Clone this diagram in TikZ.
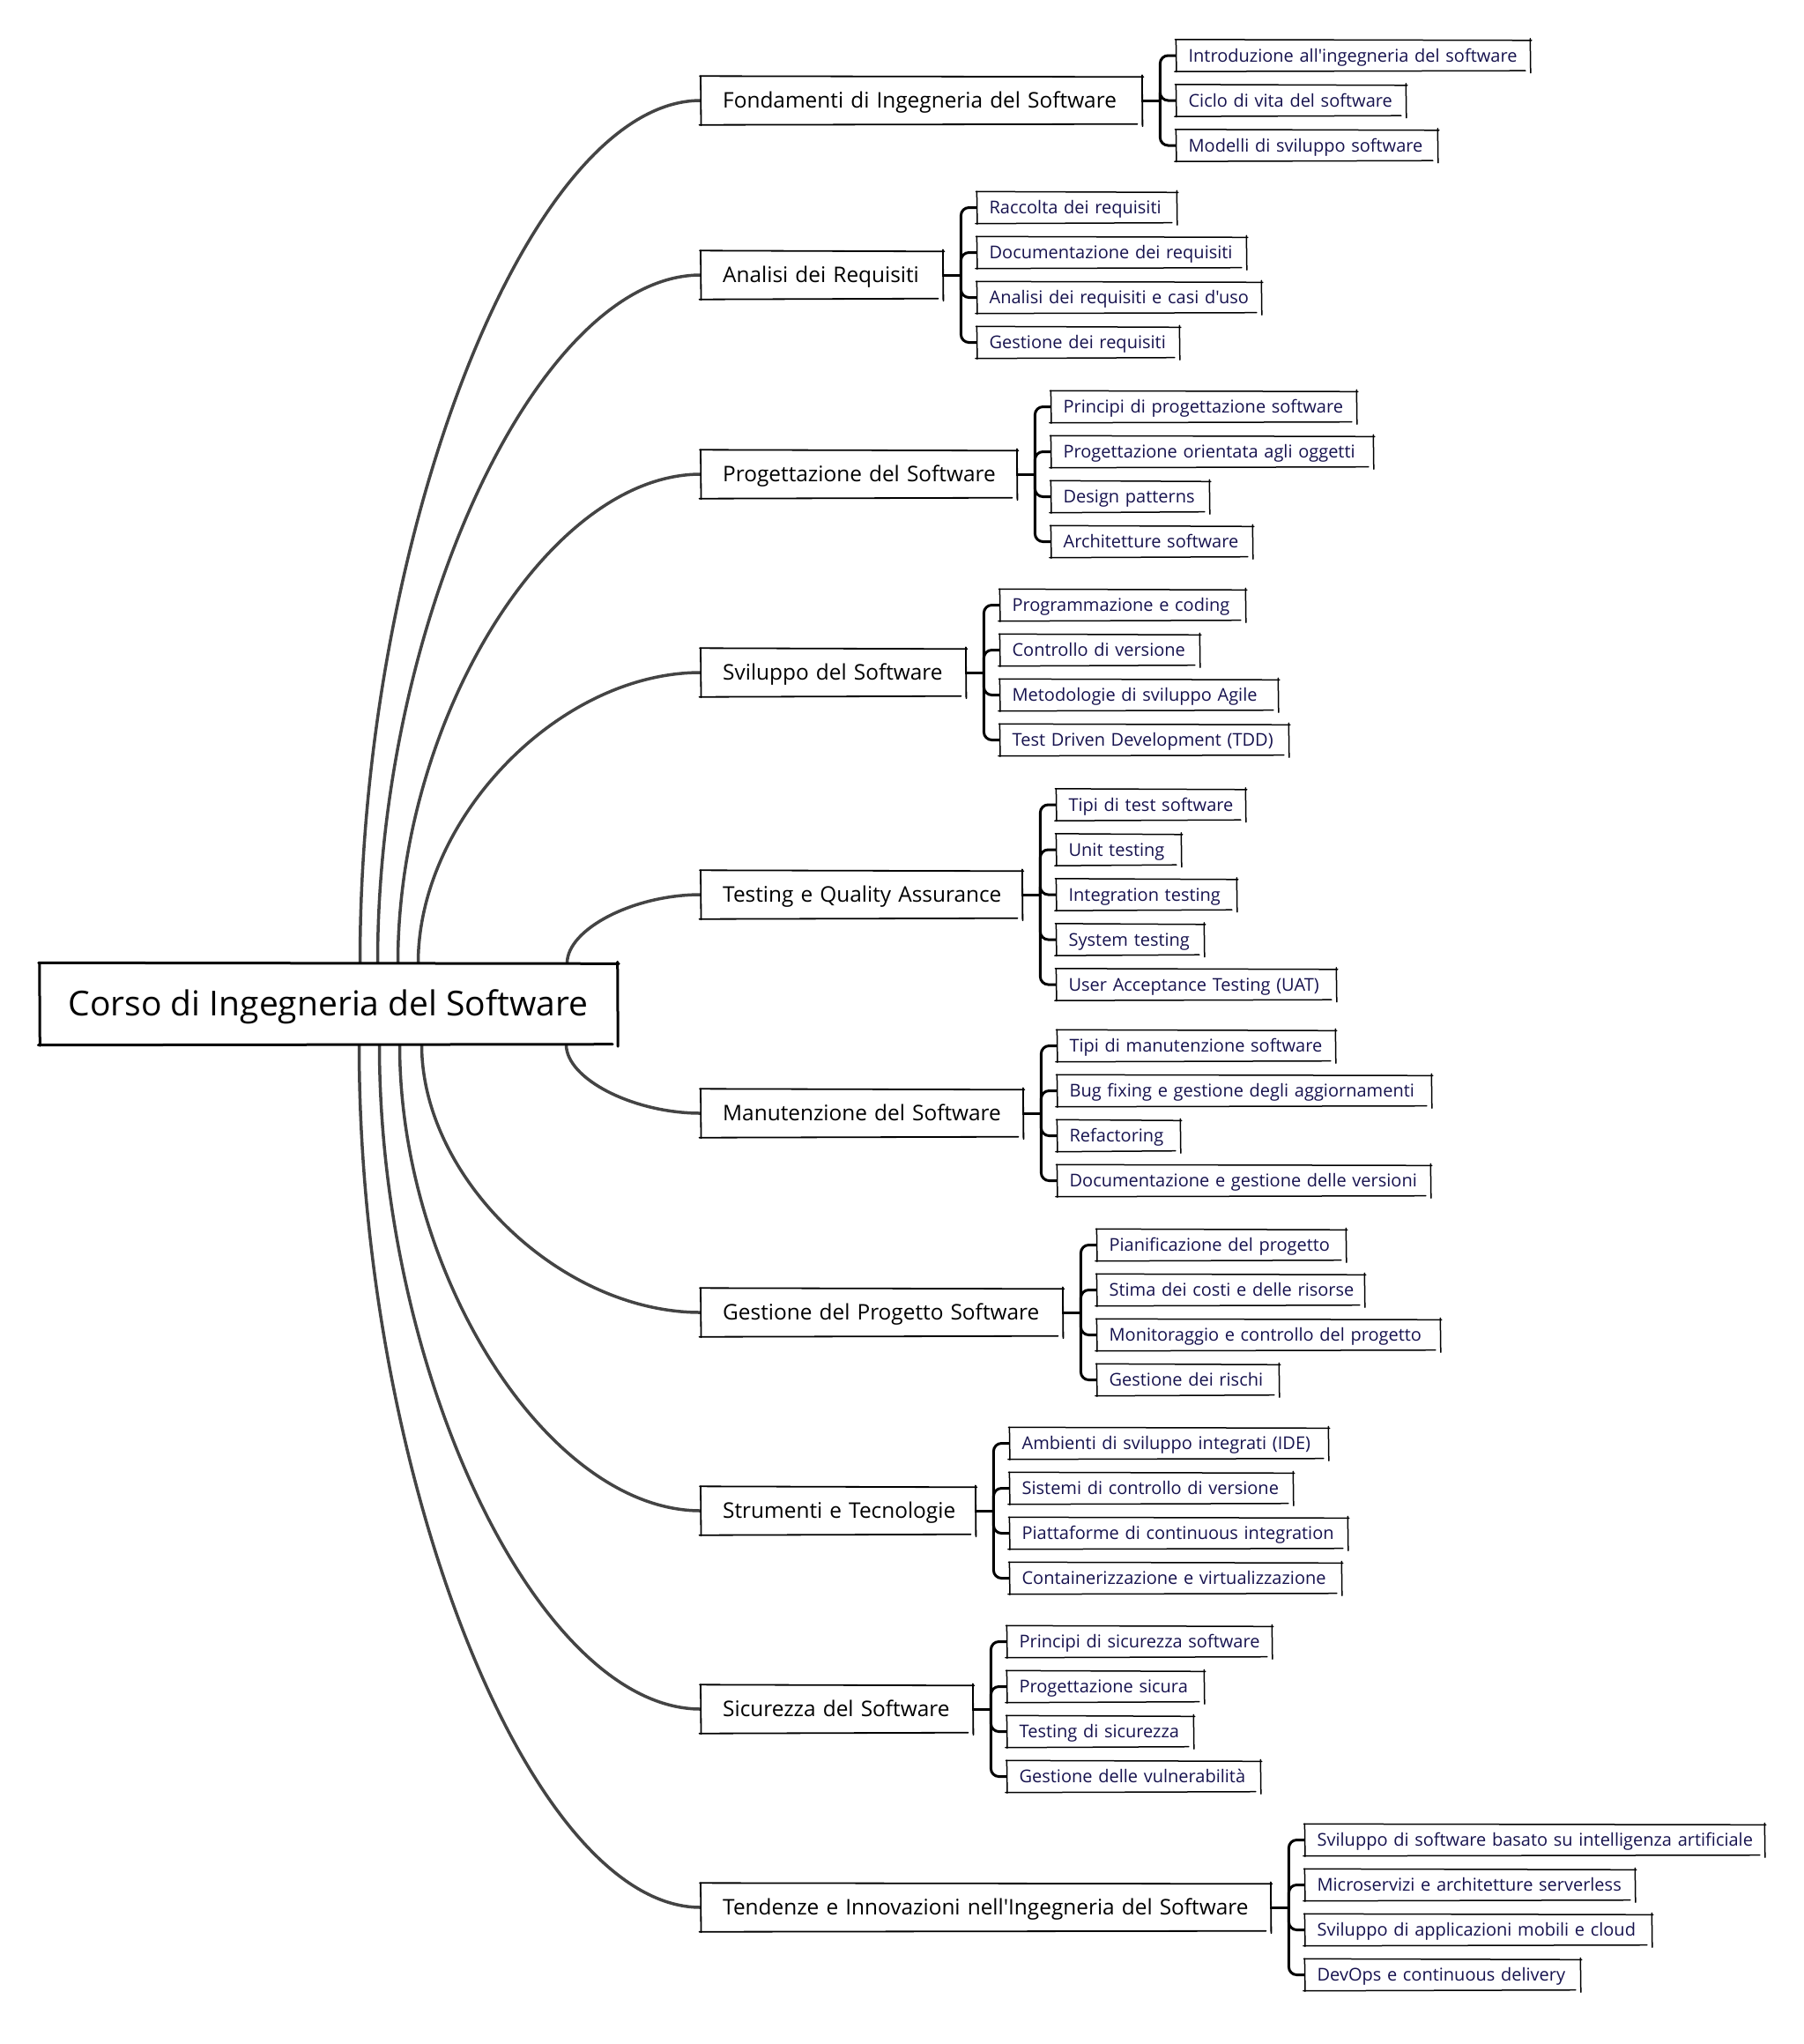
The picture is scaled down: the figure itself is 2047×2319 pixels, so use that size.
\documentclass[tikz,border=0pt]{standalone}
\usepackage{fontspec}
\setmainfont{Open Sans}[Ligatures=TeXOff]
\usetikzlibrary{calc}
\definecolor{leaftext}{RGB}{22,18,78}
\definecolor{curvecol}{RGB}{68,68,68}
\newcommand\rootfont{\fontsize{39}{44}\selectfont}
\newcommand\lonefont{\fontsize{24.4}{29}\selectfont}
\newcommand\leaffont{\fontsize{20}{24}\selectfont}
\newcommand\skb[2]{%
  \draw[line width=#2pt,line cap=round] ([xshift=-1pt,yshift=0.5pt]#1.north west) -- ([xshift=2pt,yshift=-0.5pt]#1.north east);
  \draw[line width=#2pt,line cap=round] ([xshift=0.5pt,yshift=1.5pt]#1.north east) -- ([xshift=1pt,yshift=-2pt]#1.south east);
  \draw[line width=#2pt,line cap=round] ([xshift=-1.5pt,yshift=-0.5pt]#1.south west) -- ([xshift=-5pt,yshift=0.5pt]#1.south east);
  \draw[line width=#2pt,line cap=round] ([yshift=0.5pt]#1.north west) -- ([xshift=0.5pt,yshift=-1pt]#1.south west);
}
\newcommand\conn[2]{%
  \coordinate (ca) at (#1);
  \coordinate (cb) at (#2);
  \coordinate (cm) at ($(ca)!0.5!(cb)$);
  \draw[maincurve] (ca) .. controls (ca |- cm) and (cm |- cb) .. (cb);
}
\newcommand\grp[2]{%
  \draw[brk] (#1.east) -- ([xshift=21pt]#1.east);
  \foreach \c in {#2} \draw[brk] ([xshift=21pt]#1.east) |- (\c.west);
}
\tikzset{
  rootbox/.style={font=\rootfont, minimum width=655pt, minimum height=92pt, inner sep=0pt, text height=27.8pt, text depth=0pt},
  lone/.style={font=\lonefont, anchor=west, inner xsep=25pt, inner ysep=0pt, minimum height=54pt, text height=17.5pt, text depth=0pt, align=left, text width=#1pt},
  leaf/.style={font=\leaffont, text=leaftext, anchor=west, inner xsep=14pt, inner ysep=0pt, minimum height=35pt, text height=14.3pt, text depth=0pt, align=left, text width=#1pt},
  maincurve/.style={draw=curvecol, line width=3.5pt},
  brk/.style={draw=black, line width=3pt, rounded corners=9pt}
}
\begin{document}
\begin{tikzpicture}[x=1pt,y=-1pt]
\useasboundingbox (0,0) rectangle (2047,2319);
% root
\node[rootbox] (root) at (372.5,1139) {Corso di Ingegneria del Software};
% level 1
\node[lone=450] (f) at (795,114) {\mbox{Fondamenti di Ingegneria del Software}};
\node[lone=224] (a) at (795,312) {\mbox{Analisi dei Requisiti}};
\node[lone=308] (p) at (795,538) {\mbox{Progettazione del Software}};
\node[lone=250] (s) at (795,763) {\mbox{Sviluppo del Software}};
\node[lone=314] (t) at (795,1015) {\mbox{Testing e Quality Assurance}};
\node[lone=315] (m) at (795,1263) {\mbox{Manutenzione del Software}};
\node[lone=360] (g) at (795,1489) {\mbox{Gestione del Progetto Software}};
\node[lone=261] (r) at (795,1714) {\mbox{Strumenti e Tecnologie}};
\node[lone=258] (k) at (795,1939) {\mbox{Sicurezza del Software}};
\node[lone=596] (n) at (795,2164) {\mbox{Tendenze e Innovazioni nell'Ingegneria del Software}};
% leaves
\node[leaf=373] (f1) at ([xshift=39pt,yshift=51pt]f.east) {\mbox{Introduzione all'ingegneria del software}};
\node[leaf=232] (f2) at ([xshift=39pt]f.east) {\mbox{Ciclo di vita del software}};
\node[leaf=268] (f3) at ([xshift=39pt,yshift=-51pt]f.east) {\mbox{Modelli di sviluppo software}};

\node[leaf=198] (a1) at ([xshift=39pt,yshift=76.5pt]a.east) {\mbox{Raccolta dei requisiti}};
\node[leaf=277] (a2) at ([xshift=39pt,yshift=25.5pt]a.east) {\mbox{Documentazione dei requisiti}};
\node[leaf=294] (a3) at ([xshift=39pt,yshift=-25.5pt]a.east) {\mbox{Analisi dei requisiti e casi d'uso}};
\node[leaf=201] (a4) at ([xshift=39pt,yshift=-76.5pt]a.east) {\mbox{Gestione dei requisiti}};

\node[leaf=318] (p1) at ([xshift=39pt,yshift=76.5pt]p.east) {\mbox{Principi di progettazione software}};
\node[leaf=337] (p2) at ([xshift=39pt,yshift=25.5pt]p.east) {\mbox{Progettazione orientata agli oggetti}};
\node[leaf=151] (p3) at ([xshift=39pt,yshift=-25.5pt]p.east) {\mbox{Design patterns}};
\node[leaf=200] (p4) at ([xshift=39pt,yshift=-76.5pt]p.east) {\mbox{Architetture software}};

\node[leaf=250] (s1) at ([xshift=39pt,yshift=76.5pt]s.east) {\mbox{Programmazione e coding}};
\node[leaf=198] (s2) at ([xshift=39pt,yshift=25.5pt]s.east) {\mbox{Controllo di versione}};
\node[leaf=287] (s3) at ([xshift=39pt,yshift=-25.5pt]s.east) {\mbox{Metodologie di sviluppo Agile}};
\node[leaf=299] (s4) at ([xshift=39pt,yshift=-76.5pt]s.east) {\mbox{Test Driven Development (TDD)}};

\node[leaf=186] (t1) at ([xshift=39pt,yshift=102pt]t.east) {\mbox{Tipi di test software}};
\node[leaf=113] (t2) at ([xshift=39pt,yshift=51pt]t.east) {\mbox{Unit testing}};
\node[leaf=176] (t3) at ([xshift=39pt]t.east) {\mbox{Integration testing}};
\node[leaf=139] (t4) at ([xshift=39pt,yshift=-51pt]t.east) {\mbox{System testing}};
\node[leaf=289] (t5) at ([xshift=39pt,yshift=-102pt]t.east) {\mbox{User Acceptance Testing (UAT)}};

\node[leaf=287] (m1) at ([xshift=39pt,yshift=76.5pt]m.east) {\mbox{Tipi di manutenzione software}};
\node[leaf=396] (m2) at ([xshift=39pt,yshift=25.5pt]m.east) {\mbox{Bug fixing e gestione degli aggiornamenti}};
\node[leaf=111] (m3) at ([xshift=39pt,yshift=-25.5pt]m.east) {\mbox{Refactoring}};
\node[leaf=395] (m4) at ([xshift=39pt,yshift=-76.5pt]m.east) {\mbox{Documentazione e gestione delle versioni}};

\node[leaf=254] (g1) at ([xshift=39pt,yshift=76.5pt]g.east) {\mbox{Pianificazione del progetto}};
\node[leaf=275] (g2) at ([xshift=39pt,yshift=25.5pt]g.east) {\mbox{Stima dei costi e delle risorse}};
\node[leaf=361] (g3) at ([xshift=39pt,yshift=-25.5pt]g.east) {\mbox{Monitoraggio e controllo del progetto}};
\node[leaf=178] (g4) at ([xshift=39pt,yshift=-76.5pt]g.east) {\mbox{Gestione dei rischi}};

\node[leaf=333] (r1) at ([xshift=39pt,yshift=76.5pt]r.east) {\mbox{Ambienti di sviluppo integrati (IDE)}};
\node[leaf=293] (r2) at ([xshift=39pt,yshift=25.5pt]r.east) {\mbox{Sistemi di controllo di versione}};
\node[leaf=355] (r3) at ([xshift=39pt,yshift=-25.5pt]r.east) {\mbox{Piattaforme di continuous integration}};
\node[leaf=348] (r4) at ([xshift=39pt,yshift=-76.5pt]r.east) {\mbox{Containerizzazione e virtualizzazione}};

\node[leaf=272] (k1) at ([xshift=39pt,yshift=76.5pt]k.east) {\mbox{Principi di sicurezza software}};
\node[leaf=195] (k2) at ([xshift=39pt,yshift=25.5pt]k.east) {\mbox{Progettazione sicura}};
\node[leaf=183] (k3) at ([xshift=39pt,yshift=-25.5pt]k.east) {\mbox{Testing di sicurezza}};
\node[leaf=259] (k4) at ([xshift=39pt,yshift=-76.5pt]k.east) {\mbox{Gestione delle vulnerabilità}};

\node[leaf=493] (n1) at ([xshift=39pt,yshift=76.5pt]n.east) {\mbox{Sviluppo di software basato su intelligenza artificiale}};
\node[leaf=346] (n2) at ([xshift=39pt,yshift=25.5pt]n.east) {\mbox{Microservizi e architetture serverless}};
\node[leaf=365] (n3) at ([xshift=39pt,yshift=-25.5pt]n.east) {\mbox{Sviluppo di applicazioni mobili e cloud}};
\node[leaf=284] (n4) at ([xshift=39pt,yshift=-76.5pt]n.east) {\mbox{DevOps e continuous delivery}};

% main connectors
\conn{[xshift=36pt]root.north}{f.west}
\conn{[xshift=56pt]root.north}{a.west}
\conn{[xshift=79pt]root.north}{p.west}
\conn{[xshift=102pt]root.north}{s.west}
\conn{[xshift=271pt]root.north}{t.west}
\conn{[xshift=270pt]root.south}{m.west}
\conn{[xshift=106pt]root.south}{g.west}
\conn{[xshift=81pt]root.south}{r.west}
\conn{[xshift=58pt]root.south}{k.west}
\conn{[xshift=35pt]root.south}{n.west}

% brackets
\grp{f}{f1,f2,f3}
\grp{a}{a1,a2,a3,a4}
\grp{p}{p1,p2,p3,p4}
\grp{s}{s1,s2,s3,s4}
\grp{t}{t1,t2,t3,t4,t5}
\grp{m}{m1,m2,m3,m4}
\grp{g}{g1,g2,g3,g4}
\grp{r}{r1,r2,r3,r4}
\grp{k}{k1,k2,k3,k4}
\grp{n}{n1,n2,n3,n4}

% sketchy outlines
\skb{root}{3}
\foreach \b in {f,a,p,s,t,m,g,r,k,n} {\skb{\b}{1.8}}
\foreach \b in {f1,f2,f3,a1,a2,a3,a4,p1,p2,p3,p4,s1,s2,s3,s4,t1,t2,t3,t4,t5,m1,m2,m3,m4,g1,g2,g3,g4,r1,r2,r3,r4,k1,k2,k3,k4,n1,n2,n3,n4} {\skb{\b}{1.5}}
\end{tikzpicture}
\end{document}
